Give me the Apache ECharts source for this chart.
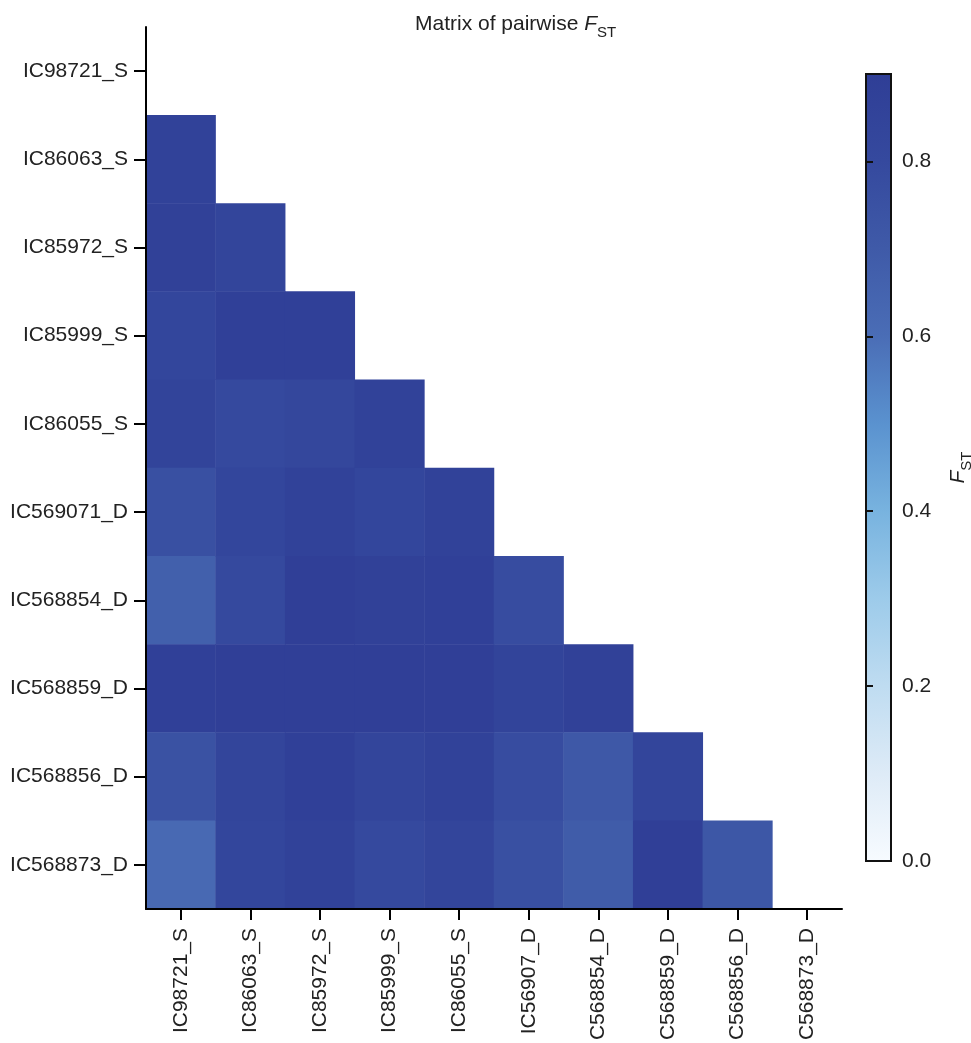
<!DOCTYPE html>
<html>
<head>
<meta charset="utf-8">
<script src="https://cdn.jsdelivr.net/npm/echarts@6/dist/echarts.min.js"></script>
<style>
html,body{margin:0;padding:0;background:#fff;}
#chart{width:971px;height:1043px;}
</style>
</head>
<body>
<div id="chart"></div>
<script>
// Categories
const xLabels = ['IC98721_S','IC86063_S','IC85972_S','IC85999_S','IC86055_S','IC56907_D','C568854_D','C568859_D','C568856_D','C568873_D'];
const yLabels = ['IC98721_S','IC86063_S','IC85972_S','IC85999_S','IC86055_S','IC569071_D','IC568854_D','IC568859_D','IC568856_D','IC568873_D'];

// Lower-triangle pairwise FST values, one array per row (row i has i values)
const row_IC98721_S = [];
const row_IC86063_S = [0.86];
const row_IC85972_S = [0.87, 0.84];
const row_IC85999_S = [0.83, 0.88, 0.88];
const row_IC86055_S = [0.85, 0.80, 0.82, 0.86];
const row_IC569071_D = [0.76, 0.83, 0.86, 0.83, 0.86];
const row_IC568854_D = [0.67, 0.80, 0.89, 0.87, 0.88, 0.78];
const row_IC568859_D = [0.88, 0.89, 0.89, 0.89, 0.89, 0.85, 0.87];
const row_IC568856_D = [0.75, 0.84, 0.88, 0.84, 0.86, 0.78, 0.71, 0.84];
const row_IC568873_D = [0.62, 0.83, 0.86, 0.80, 0.84, 0.76, 0.69, 0.89, 0.72];

// Colour scale
const scaleMin = 0, scaleMax = 0.9;
const colorbarTicks = [0, 0.2, 0.4, 0.6, 0.8];
const palette = ['#f7fbff','#deebf7','#bfdcf1','#9dcbea','#78b3df','#5a92cf','#4a6db6','#3f5aa8','#35499e','#2f3e96'];

const rows = [row_IC98721_S,row_IC86063_S,row_IC85972_S,row_IC85999_S,row_IC86055_S,row_IC569071_D,row_IC568854_D,row_IC568859_D,row_IC568856_D,row_IC568873_D];
const data = [];
rows.forEach((r, i) => r.forEach((v, j) => data.push([j, i, v])));

const gradStops = palette.map((c, k) => ({offset: 1 - k / (palette.length - 1), color: c}));

const FONT = 'Liberation Sans';
const TXT = '#222';
const chart = echarts.init(document.getElementById('chart'));
chart.setOption({
  backgroundColor: '#fff',
  animation: false,
  title: {
    text: '{a|Matrix of pairwise }{i|F}{s|ST}',
    left: 415, top: 9, padding: 0,
    textStyle: {
      rich: {
        a: {fontFamily: FONT, fontSize: 21, fontWeight: 'normal', color: TXT, verticalAlign: 'bottom', lineHeight: 26},
        i: {fontFamily: FONT, fontSize: 21, fontWeight: 'normal', fontStyle: 'italic', color: TXT, verticalAlign: 'bottom', lineHeight: 26},
        s: {fontFamily: FONT, fontSize: 15, fontWeight: 'normal', color: TXT, verticalAlign: 'bottom', lineHeight: 16, padding: [0, 0, -5, 0]}
      }
    }
  },
  grid: [
    {left: 146, top: 27, width: 696, height: 882, containLabel: false, outerBoundsMode: 'none'},
    {left: 866, top: 74, width: 25, height: 787, show: true, borderColor: '#111', borderWidth: 2,
     containLabel: false, outerBoundsMode: 'none',
     backgroundColor: {type: 'linear', x: 0, y: 0, x2: 0, y2: 1, colorStops: gradStops}}
  ],
  xAxis: [
    {type: 'category', data: xLabels, gridIndex: 0, z: 10,
     axisLine: {show: true, lineStyle: {color: '#000', width: 2}},
     axisTick: {show: true, inside: false, alignWithLabel: true, length: 11, lineStyle: {color: '#000', width: 2}},
     axisLabel: {show: true, rotate: 90, fontFamily: FONT, fontSize: 21, color: TXT, margin: 19},
     splitLine: {show: false}},
    {type: 'value', gridIndex: 1, show: false}
  ],
  yAxis: [
    {type: 'category', data: yLabels, inverse: true, gridIndex: 0, z: 10,
     axisLine: {show: true, lineStyle: {color: '#000', width: 2}},
     axisTick: {show: true, inside: false, alignWithLabel: true, length: 12, lineStyle: {color: '#000', width: 2}},
     axisLabel: {show: true, fontFamily: FONT, fontSize: 21, color: TXT, margin: 18},
     splitLine: {show: false}},
    {type: 'value', gridIndex: 1, position: 'right', min: scaleMin, max: scaleMax, interval: 0.2, z: 10,
     axisLine: {show: true, lineStyle: {color: '#111', width: 2}},
     axisTick: {show: true, inside: false, length: 7, lineStyle: {color: '#111', width: 2},
       customValues: colorbarTicks},
     axisLabel: {show: true, fontFamily: FONT, fontSize: 21, color: TXT, margin: 11,
       customValues: colorbarTicks, formatter: v => v.toFixed(1)},
     splitLine: {show: false},
     name: '{i|F}{s|ST}', nameLocation: 'middle', nameGap: 52, nameRotate: 90,
     nameTextStyle: {rich: {
       i: {fontFamily: FONT, fontSize: 21, fontStyle: 'italic', color: TXT, verticalAlign: 'bottom', lineHeight: 26},
       s: {fontFamily: FONT, fontSize: 15, color: TXT, verticalAlign: 'bottom', lineHeight: 16, padding: [0, 0, -5, 0]}
     }}}
  ],
  visualMap: {
    show: false, min: scaleMin, max: scaleMax, dimension: 2, seriesIndex: 0,
    inRange: {color: palette}
  },
  series: [{
    type: 'heatmap', xAxisIndex: 0, yAxisIndex: 0, data: data,
    itemStyle: {borderWidth: 0},
    emphasis: {disabled: true}
  }]
});
</script>
</body>
</html>
